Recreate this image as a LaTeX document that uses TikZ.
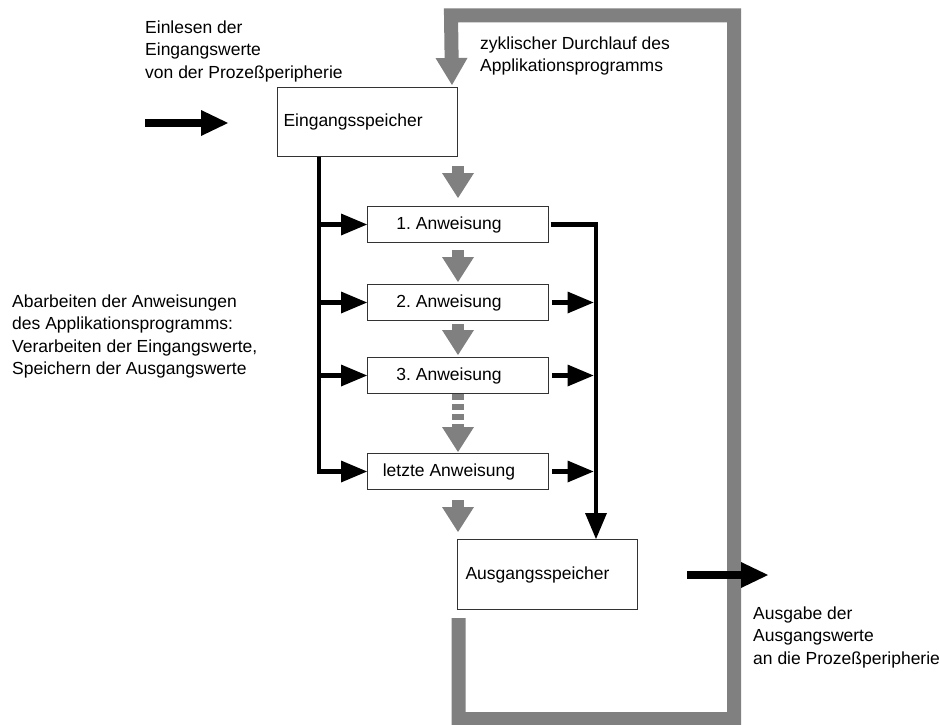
\documentclass[tikz,border=0pt]{standalone}
\usepackage{fontspec}
\setmainfont{Liberation Sans}
\usetikzlibrary{arrows.meta,calc}
\frenchspacing
\begin{document}
\begin{tikzpicture}[x=1pt,y=-1pt,
  every node/.style={font=\fontsize{17.5}{22.5}\selectfont},
  memory/.style={draw=black!80, line width=1pt, fill=white, anchor=north west,
    align=left, inner ysep=0pt},
  stepbox/.style={draw=black!80, line width=1pt, fill=white, anchor=north west,
    minimum width=181pt, minimum height=36pt, inner sep=0pt,
    execute at end node={\hspace*{18pt}}},
  note/.style={anchor=north west, align=left, inner sep=0pt},
  flow/.style={draw=gray, line width=12pt,
    -{Triangle[width=32pt,length=25pt,line width=0pt]}},
  cycle/.style={draw=gray, line width=14pt,
    -{Triangle[width=32pt,length=27pt,line width=0pt]}},
  bus/.style={draw=black, line width=4.5pt},
  busarrow/.style={bus, -{Triangle[width=22pt,length=26pt,line width=0pt]}},
  bigarrow/.style={draw=black, line width=8pt,
    -{Triangle[width=26pt,length=27pt,line width=0pt]}}]

\path[use as bounding box, fill=white] (0,0) rectangle (940,725);

% memories and program steps
\node[memory, text width=168pt, inner xsep=6pt, minimum height=69pt] (ein) at (277,87) {Eingangsspeicher};
\node[stepbox] (s1) at (367,206) {1. Anweisung};
\node[stepbox] (s2) at (367,284) {2. Anweisung};
\node[stepbox] (s3) at (367,357) {3. Anweisung};
\node[stepbox] (s4) at (367,453) {letzte Anweisung};
\node[memory, text width=164pt, inner xsep=8pt, minimum height=70pt] (ao) at (457,539) {Ausgangsspeicher};

% explanatory texts
\node[note] (tin) at (145,20.5) {Einlesen der\\Eingangswerte\\von der Prozeßperipherie};
\node[note] (tcyc) at (480,36.5) {zyklischer Durchlauf des\\Applikationsprogramms};
\node[note] (tproc) at (12,294.5) {Abarbeiten der Anweisungen\\des Applikationsprogramms:\\Verarbeiten der Eingangswerte,\\Speichern der Ausgangswerte};
\node[note] (tout) at (753,606.5) {Ausgabe der\\Ausgangswerte\\an die Prozeßperipherie};

% cyclic loop of the application program
\coordinate (loopS) at (458.5,618);
\coordinate (loopA) at (458.5,719);
\coordinate (loopB) at (734,719);
\coordinate (loopC) at (734,15.5);
\coordinate (loopD) at (451,15.5);
\draw[cycle] (loopS) -- (loopA) -- (loopB) -- (loopC) -- (loopD) -- ($(ein.north east)+(-6,-2)$);

% sequence of the instructions
\draw[flow, shorten <=9pt, shorten >=8pt] (s1.north |- ein.south) -- (s1.north);
\draw[flow, shorten <=7pt, shorten >=2pt] (s1.south) -- (s2.north);
\draw[flow, shorten <=3pt, shorten >=2pt] (s2.south) -- (s3.north);
\draw[flow, dash pattern=on 6pt off 4pt, shorten >=1pt] (s3.south) -- (s4.north);
\draw[flow, shorten <=10pt, shorten >=7pt] (s4.south) -- (s4.south |- ao.north);

% reading the input memory
\coordinate (lb) at ($(ein.south west)+(42,0)$);
\draw[busarrow] (lb) |- (s4.west);
\draw[busarrow] (lb |- s1.west) -- (s1.west);
\draw[busarrow] (lb |- s2.west) -- (s2.west);
\draw[busarrow] (lb |- s3.west) -- (s3.west);

% writing the output memory
\coordinate (rb) at ($(ao.north west)+(139,0)$);
\draw[busarrow] ($(s1.east)+(1.5,0)$) -| (rb);
\draw[busarrow, shorten >=2.5pt] ($(s2.east)+(3,0)$) -- (s2.east -| rb);
\draw[busarrow, shorten >=2.5pt] ($(s3.east)+(3,0)$) -- (s3.east -| rb);
\draw[busarrow, shorten >=2.5pt] ($(s4.east)+(3,0)$) -- (s4.east -| rb);

% process periphery in and out
\coordinate (inS) at (145,123);
\coordinate (inE) at (228,123);
\draw[bigarrow] (inS) -- (inE);
\coordinate (outS) at (687,575);
\coordinate (outE) at (768,575);
\draw[bigarrow] (outS) -- (outE);
\end{tikzpicture}
\end{document}
